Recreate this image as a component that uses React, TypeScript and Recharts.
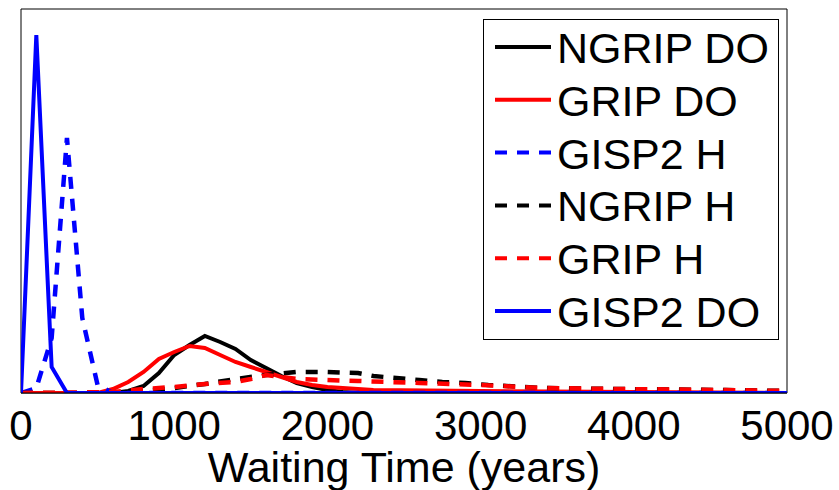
import { LineChart, Line, XAxis, YAxis, ReferenceArea, Legend } from 'recharts';

// x values (years) and curve heights (arbitrary density units)
const ngripDoYears = [0, 500, 600, 700, 800, 900, 1000, 1100, 1200, 1300, 1400, 1500, 1600, 1700, 1800, 1900, 2000, 2100, 2200, 5000];
const ngripDo = [0, 0, 0, 2, 7, 20, 38, 48, 57, 51, 44, 33, 25, 17, 10, 6, 3, 1, 0, 0];

const gripDoYears = [0, 500, 600, 700, 800, 900, 1000, 1100, 1200, 1300, 1400, 1500, 1600, 1700, 1800, 1900, 2000, 2100, 2300, 3000, 4000, 5000];
const gripDo = [0, 0, 4, 11, 21, 34, 41, 47, 45, 38, 31, 26, 21, 16, 11, 8, 6, 5, 3, 2, 1, 0];

const gisp2HYears = [0, 100, 200, 300, 400, 500, 600, 5000];
const gisp2H = [0, 5, 55, 255, 75, 8, 0, 0];

const ngripHYears = [0, 600, 800, 1000, 1200, 1400, 1600, 1800, 2000, 2200, 2300, 2450, 2600, 2750, 2900, 3050, 3400, 3900, 4600, 5000];
const ngripH = [0, 0, 2, 5, 9, 14, 18, 21, 21, 20, 17, 15, 13, 11, 10, 8, 5, 4, 3, 2];

const gripHYears = [0, 600, 800, 1000, 1200, 1400, 1500, 1600, 1700, 1800, 2000, 2200, 2400, 2600, 2800, 3000, 3400, 3900, 4600, 5000];
const gripH = [0, 1, 4, 6, 9, 11, 14, 18, 16, 14, 13, 12, 11, 10, 9, 8, 5, 4, 3, 2];

const gisp2DoYears = [0, 100, 200, 300, 5000];
const gisp2Do = [0, 358, 26, 0, 0];

const xTicks = [0, 1000, 2000, 3000, 4000, 5000];

const zip = (xs: number[], ys: number[]) => xs.map((x, i) => ({ x, v: ys[i] }));

const series = [
  { name: 'NGRIP DO', data: zip(ngripDoYears, ngripDo), color: '#000000', dashed: false },
  { name: 'GRIP DO', data: zip(gripDoYears, gripDo), color: '#ff0000', dashed: false },
  { name: 'GISP2 H', data: zip(gisp2HYears, gisp2H), color: '#0000ff', dashed: true },
  { name: 'NGRIP H', data: zip(ngripHYears, ngripH), color: '#000000', dashed: true },
  { name: 'GRIP H', data: zip(gripHYears, gripH), color: '#ff0000', dashed: true },
  { name: 'GISP2 DO', data: zip(gisp2DoYears, gisp2Do), color: '#0000ff', dashed: false },
];

const DASH = '12 10';

const LegendBox = () => (
  <svg width={296} height={321} style={{ display: 'block' }}>
    <rect x={0.5} y={0.5} width={295} height={320} fill="#fff" stroke="#000" />
    {series.map((s, i) => {
      const y = 28 + i * 52.8;
      return (
        <g key={s.name}>
          <line x1={12} x2={68} y1={y} y2={y} stroke={s.color} strokeWidth={4}
            strokeDasharray={s.dashed ? DASH : undefined} />
          <text x={74} y={y + 16} fontSize={43} fill="#000">{s.name}</text>
        </g>
      );
    })}
  </svg>
);

export default function App() {
  return (
    <div style={{ position: 'absolute', left: 0, top: 0, fontFamily: '"Liberation Sans", Arial, sans-serif', background: '#fff' }}>
      <LineChart width={839} height={490} margin={{ top: 9, right: 52, left: 21, bottom: 0 }}>
        <XAxis
          type="number"
          dataKey="x"
          domain={[0, 5000]}
          ticks={xTicks}
          allowDataOverflow
          height={97}
          tickLine={false}
          tickSize={0}
          tickMargin={17}
          axisLine={{ stroke: '#000' }}
          tick={{ fill: '#000', fontSize: 42 }}
          label={{ value: 'Waiting Time (years)', position: 'insideBottom', offset: 8, fill: '#000', fontSize: 43 }}
        />
        <XAxis
          xAxisId="top"
          orientation="top"
          type="number"
          dataKey="x"
          domain={[0, 5000]}
          ticks={[1000, 2000, 3000, 4000]}
          height={0}
          tick={false}
          tickSize={-7}
          tickLine={{ stroke: '#000' }}
          axisLine={{ stroke: '#000' }}
        />
        <YAxis type="number" domain={[0, 384]} hide allowDataOverflow />
        <ReferenceArea x1={0} x2={5000} y1={0} y2={384} fill="none" stroke="#000" strokeWidth={1} ifOverflow="visible" />
        {series.map((s) => (
          <Line
            key={s.name}
            data={s.data}
            dataKey="v"
            name={s.name}
            type="linear"
            stroke={s.color}
            strokeWidth={s.dashed ? 4.5 : 4}
            strokeDasharray={s.dashed ? DASH : undefined}
            dot={false}
            activeDot={false}
            isAnimationActive={false}
          />
        ))}
        <Legend
          layout="horizontal"
          verticalAlign="middle"
          align="center"
          content={() => <LegendBox />}
          wrapperStyle={{ left: 483, top: 19, width: 296, height: 321 }}
        />
      </LineChart>
    </div>
  );
}
